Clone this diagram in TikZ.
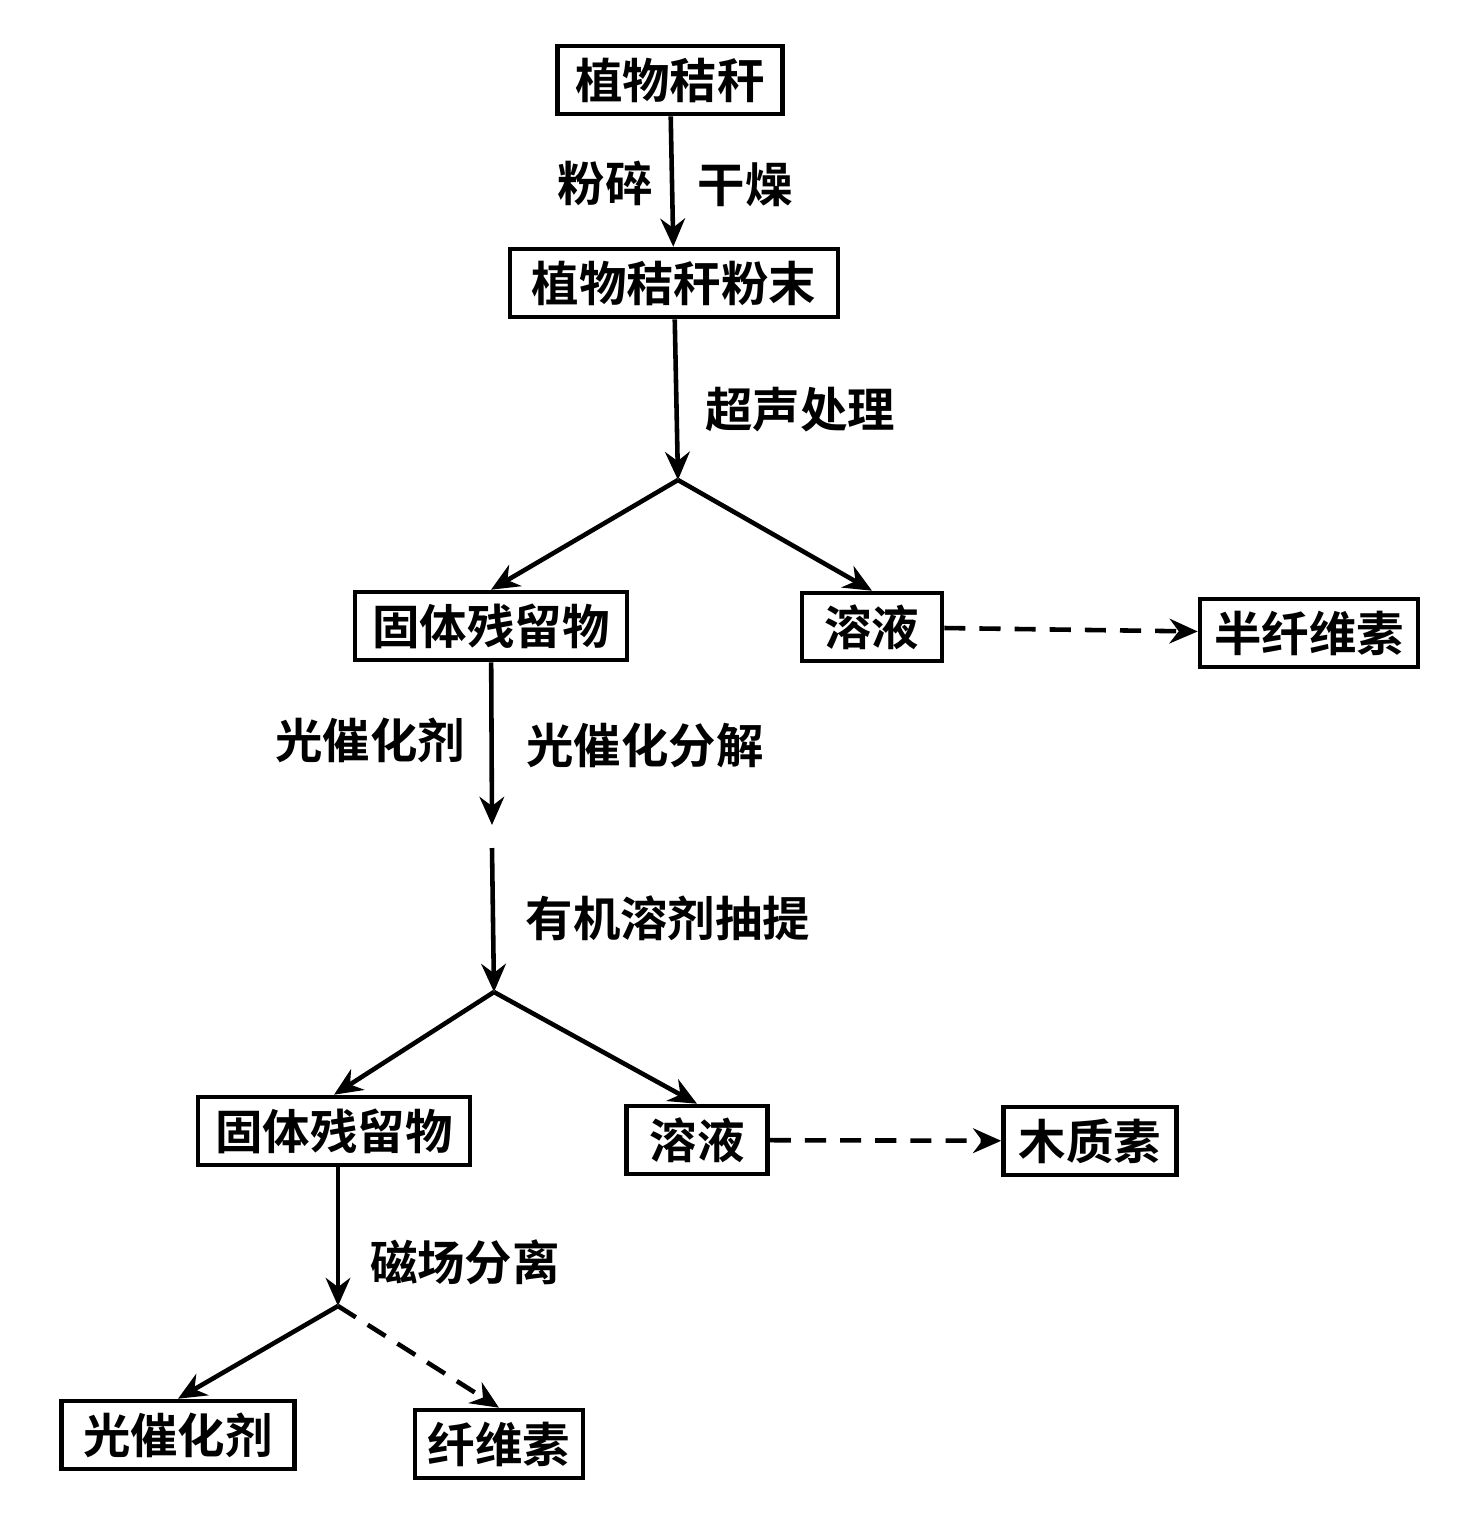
\documentclass[tikz,border=0pt]{standalone}
\usepackage{fontspec}
\newfontfamily\cjk{Noto Sans CJK SC Bold}
\usetikzlibrary{arrows.meta}

\tikzset{
    box/.style={draw, line width=1.3pt, inner sep=0pt, minimum height=0.68cm, font=\cjk\fontsize{13.5}{15}\selectfont},
    lbl/.style={font=\cjk\fontsize{13.5}{15}\selectfont},
    flow/.style={line width=1.3pt, -{Stealth[length=8pt,width=7pt]}},
    side/.style={flow, dashed, dash pattern=on 6pt off 4pt}
}

\begin{document}
\begin{tikzpicture}
        \useasboundingbox (0,0) rectangle (14.7,-15.4);

        % Boxes
        \node[box, minimum width=2.25cm] (straw) at (6.70,-0.80) {植物秸秆};
        \node[box, minimum width=3.28cm] (powder) at (6.74,-2.83) {植物秸秆粉末};
        \node[box, minimum width=2.72cm] (solidA) at (4.91,-6.26) {固体残留物};
        \node[box, minimum width=1.40cm] (solA) at (8.72,-6.27) {溶液};
        \node[box, minimum width=2.18cm] (hemi) at (13.09,-6.33) {半纤维素};
        \node[box, minimum width=2.72cm] (solidB) at (3.34,-11.31) {固体残留物};
        \node[box, minimum width=1.41cm] (solB) at (6.97,-11.40) {溶液};
        \node[box, minimum width=1.73cm] (lignin) at (10.90,-11.41) {木质素};
        \node[box, minimum width=2.33cm] (cat) at (1.78,-14.35) {光催化剂};
        \node[box, minimum width=1.68cm] (cell) at (4.99,-14.44) {纤维素};

        % Split points and free ends
        \coordinate (splitA) at (6.78,-4.80);
        \coordinate (midA) at (4.92,-8.25);
        \coordinate (midB) at (4.92,-8.48);
        \coordinate (splitB) at (4.94,-9.92);
        \coordinate (splitC) at (3.38,-13.06);

        % Main flow
        \draw[flow] (straw) -- (powder);
        \draw[flow] (powder) -- (splitA);
        \draw[flow] (splitA) -- (solidA.north);
        \draw[flow] (splitA) -- (solA.north);
        \draw[flow] (solidA) -- (midA);
        \draw[flow] (midB) -- (splitB);
        \draw[flow] (splitB) -- (solidB.north);
        \draw[flow] (splitB) -- (solB.north);
        \draw[flow] (solidB.south -| splitC) -- (splitC);
        \draw[flow] (splitC) -- (cat.north);
        \draw[side] (splitC) -- (cell.north);
        \draw[side] (solA) -- (hemi);
        \draw[side] (solB) -- (lignin);

        % Labels
        \node[lbl] (l1) at (6.05,-1.83) {粉碎};
        \node[lbl] (l2) at (7.45,-1.85) {干燥};
        \node[lbl] (l3) at (8.00,-4.10) {超声处理};
        \node[lbl] (l4) at (3.70,-7.40) {光催化剂};
        \node[lbl] (l5) at (6.45,-7.45) {光催化分解};
        \node[lbl] (l6) at (6.68,-9.18) {有机溶剂抽提};
        \node[lbl] (l7) at (4.65,-12.62) {磁场分离};
\end{tikzpicture}
\end{document}
